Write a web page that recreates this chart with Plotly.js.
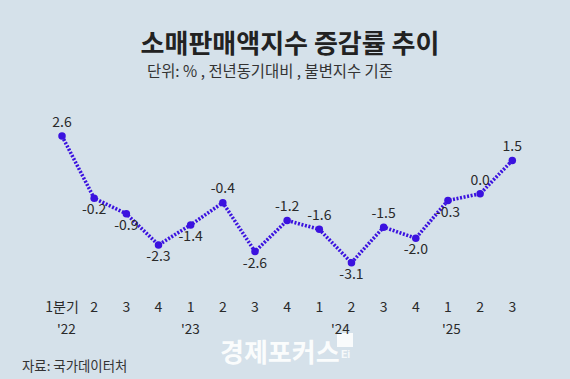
<!DOCTYPE html>
<html><head><meta charset="utf-8">
<script src="https://cdn.plot.ly/plotly-3.0.1.min.js"></script>
<style>html,body{margin:0;padding:0;background:#d5e1ea;}#c{width:570px;height:379px;}</style>
</head><body><div id="c"></div>
<script>
const quarters = ["1분기","2","3","4","1","2","3","4","1","2","3","4","1","2","3"];
const years = ["'22","'23","'24","'25"];
const yearIdx = [0,4,8,12];
const values = [2.6,-0.2,-0.9,-2.3,-1.4,-0.4,-2.6,-1.2,-1.6,-3.1,-1.5,-2.0,-0.3,0.0,1.5];
const labelPos = ["top center","bottom center","bottom center","bottom center","bottom center","top center","bottom center","top center","top center","bottom center","top center","bottom center","bottom center","top center","top center"];

const idx = values.map((v,i)=>i);
const KR = '"Noto Sans CJK KR", "Noto Sans", sans-serif';
const lineColor = '#3b12df';
const yearShift = [4,0,21,4];

const traces = [
  {x: idx, y: values, type:'scatter', mode:'lines+markers+text',
   line:{color:lineColor, width:3.6, dash:'2px,1.6px'},
   marker:{color:lineColor, size:7.5},
   text: values.map(v=>v.toFixed(1)), textposition: labelPos,
   textfont:{family:KR, size:14, color:'#2a2a2a'}, cliponaxis:false, hoverinfo:'none'}
];

const annotations = [
  {text:'단위: % , 전년동기대비 , 불변지수 기준', xref:'paper', yref:'paper', x:(145-40)/495, y:(275-70)/155, xanchor:'left', yanchor:'middle', showarrow:false, font:{family:KR, size:15.4, color:'#333'}},
  {text:'자료: 국가데이터처', xref:'paper', yref:'paper', x:(20-40)/495, y:(275-365)/155, xanchor:'left', yanchor:'middle', showarrow:false, font:{family:KR, size:13.4, color:'#333'}},
  {text:'<b>경제포커스</b>', xref:'paper', yref:'paper', x:(218-40)/495, y:(275-350)/155, xanchor:'left', yanchor:'middle', showarrow:false, font:{family:KR, size:26, color:'#ffffff'}, opacity:0.9},
  {text:'<b>Ei</b>', xref:'paper', yref:'paper', x:(345-40)/495, y:(275-354)/155, xanchor:'center', yanchor:'middle', showarrow:false, font:{family:'Roboto, sans-serif', size:11, color:'#ffffff'}, opacity:0.8}
];
years.forEach((y,i)=>{
  annotations.push({text:y, xref:'x', yref:'paper', x:yearIdx[i], y:(275-328)/155, xshift:yearShift[i], xanchor:'center', yanchor:'middle', showarrow:false, font:{family:KR, size:13.5, color:'#2a2a2a'}});
});

const layout = {
  width:570, height:379,
  paper_bgcolor:'#d5e1ea', plot_bgcolor:'#d5e1ea',
  margin:{l:40, r:35, t:120, b:104},
  showlegend:false,
  title:{text:'<b>소매판매액지수 증감률 추이</b>', x:290/570, xanchor:'center', y:1-44/379, yanchor:'middle', font:{family:KR, size:26, color:'#222'}},
  xaxis:{range:[-0.684,14.706], tickvals:idx, ticktext:quarters, showgrid:false, zeroline:false, showline:false, ticks:'', ticklabelstandoff:22, tickfont:{family:KR, size:14, color:'#2a2a2a'}},
  yaxis:{range:[-3.654,3.32], showgrid:false, zeroline:false, showline:false, showticklabels:false, ticks:''},
  shapes:[{type:'rect', xref:'paper', yref:'paper', x0:(337-40)/495, x1:(353-40)/495, y0:(275-347)/155, y1:(275-333)/155, fillcolor:'rgba(255,255,255,0.85)', line:{width:0}}],
  annotations: annotations
};
Plotly.newPlot('c', traces, layout, {staticPlot:true, displayModeBar:false});
</script></body></html>
